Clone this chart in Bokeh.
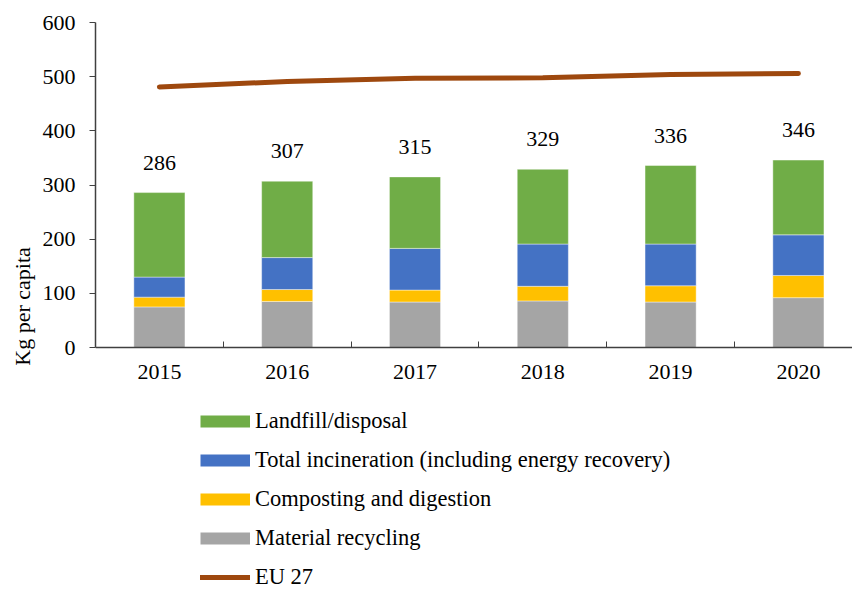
from bokeh.plotting import figure
from bokeh.models import Range1d, FixedTicker, Legend, LegendItem, ColumnDataSource, LinearAxis
from bokeh.core.properties import value
from bokeh.embed import file_html
from bokeh.resources import INLINE

years = ["2015", "2016", "2017", "2018", "2019", "2020"]
recycling = [75, 85, 84, 86, 84, 92]
composting = [18, 22, 22, 27, 30, 41]
incineration = [37, 59, 77, 78, 77, 75]
landfill = [156, 141, 132, 138, 145, 138]
eu27 = [481, 491, 497, 498, 504, 506]
y_ticks = [0, 100, 200, 300, 400, 500, 600]

series = ["recycling", "composting", "incineration", "landfill"]
labels = {
    "landfill": "Landfill/disposal",
    "incineration": "Total incineration (including energy recovery)",
    "composting": "Composting and digestion",
    "recycling": "Material recycling",
}
colors = {
    "recycling": "#A5A5A5",
    "composting": "#FFC000",
    "incineration": "#4472C4",
    "landfill": "#70AD47",
}
line_color = "#9E480E"
FONT = "Liberation Serif"
FS = "22px"

W, H = 852, 590
LEFT, TOP = 95, 22
ZERO_PX = 347  # pixel row of y = 0
px_per_unit = (ZERO_PX - TOP) / 600.0
y_start = -(H - ZERO_PX) / px_per_unit
cat_px = 127.8
x_end = -0.5 + (W - LEFT) / cat_px

xs = list(range(len(years)))
totals = [a + b + c + d for a, b, c, d in zip(recycling, composting, incineration, landfill)]
src = ColumnDataSource(dict(x=xs, recycling=recycling, composting=composting,
                            incineration=incineration, landfill=landfill,
                            total=totals, total_label=[str(t) for t in totals],
                            eu27=eu27))

p = figure(width=W, height=H, x_range=Range1d(-0.5, x_end), y_range=Range1d(y_start, 600),
           output_backend="svg", toolbar_location=None, x_axis_location=None,
           min_border_left=LEFT, min_border_right=0, min_border_top=TOP, min_border_bottom=0)
p.outline_line_color = None
p.xgrid.visible = False
p.ygrid.visible = False
p.background_fill_color = "white"
p.border_fill_color = "white"

p.vbar_stack(series, x="x", width=0.4, source=src,
             fill_color=[colors[s] for s in series],
             line_color="white", line_width=0.6, line_alpha=0.7)

p.line(x="x", y="eu27", source=src, line_color=line_color, line_width=5, line_cap="round")

p.text(x="x", y="total", text="total_label", source=src, y_offset=-30,
       text_align="center", text_baseline="middle",
       text_font=value(FONT), text_font_size=FS, text_color="black")

# x axis at y = 0
xa = LinearAxis(fixed_location=0)
xa.ticker = FixedTicker(ticks=xs, minor_ticks=[i + 0.5 for i in range(-1, len(years))])
xa.major_label_overrides = {i: y for i, y in enumerate(years)}
xa.major_tick_line_color = None
xa.minor_tick_in = 6
xa.minor_tick_out = 0
xa.minor_tick_line_color = "#404040"
xa.axis_line_color = "#404040"
xa.axis_line_width = 1.5
xa.major_label_text_font = FONT
xa.major_label_text_font_size = FS
xa.major_label_text_color = "black"
xa.major_label_standoff = 11
p.add_layout(xa, "below")

ya = p.yaxis[0]
ya.ticker = FixedTicker(ticks=y_ticks)
ya.bounds = (0, 600)
ya.minor_tick_line_color = None
ya.major_tick_in = 0
ya.major_tick_out = 6
ya.major_tick_line_color = "#404040"
ya.axis_line_color = "#404040"
ya.axis_line_width = 1.5
ya.major_label_text_font = FONT
ya.major_label_text_font_size = FS
ya.major_label_text_color = "black"
ya.major_label_standoff = 14
ya.axis_label = "Kg per capita"
ya.axis_label_text_font = FONT
ya.axis_label_text_font_size = FS
ya.axis_label_text_font_style = "normal"
ya.axis_label_text_color = "black"
ya.axis_label_standoff = 5

# legend swatches (placeholder renderers with no visible data)
nan = float("nan")
items = []
for s in ["landfill", "incineration", "composting", "recycling"]:
    r = p.line(x=[nan], y=[nan], line_color=colors[s], line_width=12, line_cap="butt")
    items.append(LegendItem(label=labels[s], renderers=[r]))
r_eu = p.line(x=[nan], y=[nan], line_color=line_color, line_width=5, line_cap="round")
items.append(LegendItem(label="EU 27", renderers=[r_eu]))

legend = Legend(items=items, location=(105, 0), orientation="vertical",
                glyph_width=50, glyph_height=22, label_height=22,
                label_standoff=5, spacing=13, padding=0, margin=0,
                border_line_color=None, background_fill_alpha=0,
                label_text_font=FONT, label_text_font_size="22.5px",
                label_text_color="black")
p.add_layout(legend)

open("out.html", "w").write(file_html(p, INLINE))
